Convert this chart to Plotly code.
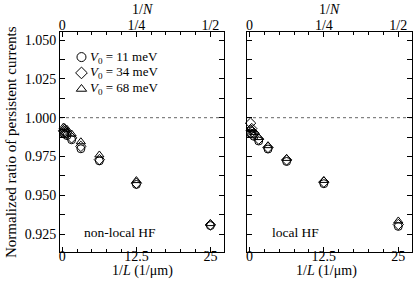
import plotly.graph_objects as go

# ---- data ----
N_vals = [2, 4, 8, 16, 32, 64, 128, 256]
inv_L = [50.0 / n for n in N_vals]          # 1/L (1/um)

nonlocal_v11 = [0.9305, 0.9570, 0.9722, 0.9800, 0.9858, 0.9885, 0.9895, 0.9900]
nonlocal_v34 = [0.9310, 0.9578, 0.9730, 0.9815, 0.9870, 0.9900, 0.9910, 0.9915]
nonlocal_v68 = [0.9318, 0.9595, 0.9760, 0.9845, 0.9895, 0.9925, 0.9935, 0.9940]

local_v11 = [0.9300, 0.9575, 0.9718, 0.9798, 0.9850, 0.9880, 0.9895, 0.9900]
local_v34 = [0.9312, 0.9585, 0.9728, 0.9808, 0.9862, 0.9900, 0.9930, 0.9965]
local_v68 = [0.9335, 0.9596, 0.9738, 0.9820, 0.9872, 0.9905, 0.9925, 0.9930]

series_names = ["<i>V</i><sub>0</sub> = 11 meV", "<i>V</i><sub>0</sub> = 34 meV", "<i>V</i><sub>0</sub> = 68 meV"]
symbols = ["circle-open", "diamond-open", "triangle-up-open"]

bottom_tickvals = [0, 12.5, 25]
bottom_ticktext = ["0", "12.5", "25"]
top_ticktext = ["0", "1/4", "1/2"]
y_tickvals = [0.925, 0.950, 0.975, 1.000, 1.025, 1.050]
y_ticktext = ["0.925", "0.950", "0.975", "1.000", "1.025", "1.050"]

FONT = "Liberation Serif"
W, H = 415, 288
xr = [-0.4, 27.3]
yr = [0.9135, 1.0552]

def px(x):
    return x / W
def py(y):
    return 1 - y / H

left_dom = [px(60), px(224)]
right_dom = [px(247), px(412)]
y_dom = [py(252), py(32)]

fig = go.Figure()

for xa, ya, data in [("x", "y", [nonlocal_v11, nonlocal_v34, nonlocal_v68]),
                     ("x2", "y2", [local_v11, local_v34, local_v68])]:
    for vals, sym in zip(data, symbols):
        fig.add_trace(go.Scatter(
            x=inv_L, y=vals, mode="markers", xaxis=xa, yaxis=ya,
            marker=dict(symbol=sym, size=8, color="black", line=dict(width=1, color="black")),
            showlegend=False, cliponaxis=False))

# invisible traces for the top axes
fig.add_trace(go.Scatter(x=[0], y=[1], xaxis="x3", yaxis="y", mode="markers",
                         marker=dict(opacity=0), showlegend=False, hoverinfo="skip"))
fig.add_trace(go.Scatter(x=[0], y=[1], xaxis="x4", yaxis="y2", mode="markers",
                         marker=dict(opacity=0), showlegend=False, hoverinfo="skip"))

# legend (manual) on overlay axis
leg_rows = [0.886, 0.814, 0.741]
fig.add_trace(go.Scatter(x=[0.131] * 3, y=leg_rows, xaxis="x5", yaxis="y5", mode="markers",
                         marker=dict(symbol=symbols, size=9, color="black", line=dict(width=1, color="black")),
                         showlegend=False, hoverinfo="skip"))

axis_common = dict(showline=True, linecolor="black", linewidth=1, ticks="inside",
                   ticklen=5, tickwidth=1, tickcolor="black", showgrid=False, zeroline=False,
                   automargin=False,
                   tickfont=dict(family=FONT, size=14, color="black"))

xminor = dict(dtick=2.5, ticklen=3, ticks="inside", tickcolor="black", tickwidth=1, showgrid=False)
yminor = dict(dtick=0.0125, ticklen=3, ticks="inside", tickcolor="black", tickwidth=1, showgrid=False)

fig.update_layout(
    template="none",
    width=W, height=H, margin=dict(l=0, r=0, t=0, b=0, pad=0),
    paper_bgcolor="white", plot_bgcolor="rgba(0,0,0,0)", showlegend=False,
    xaxis=dict(domain=left_dom, range=xr, anchor="y", tickmode="array", ticklabelstandoff=-9,
               tickvals=bottom_tickvals, ticktext=bottom_ticktext, minor=xminor, **axis_common),
    yaxis=dict(domain=y_dom, range=yr, anchor="x", tickmode="array", tickvals=y_tickvals,
               ticktext=y_ticktext, mirror="allticks", minor=yminor, **axis_common),
    xaxis2=dict(domain=right_dom, range=xr, anchor="y2", tickmode="array", ticklabelstandoff=-9,
                tickvals=bottom_tickvals, ticktext=bottom_ticktext, minor=xminor, **axis_common),
    yaxis2=dict(domain=y_dom, range=yr, anchor="x2", tickmode="array", tickvals=y_tickvals,
                showticklabels=False, mirror="allticks", minor=yminor, **axis_common),
    xaxis3=dict(overlaying="x", side="top", range=xr, anchor="y", tickmode="array", ticklabelstandoff=-5,
                tickvals=bottom_tickvals, ticktext=top_ticktext, minor=xminor, **axis_common),
    xaxis4=dict(overlaying="x2", side="top", range=xr, anchor="y2", tickmode="array", ticklabelstandoff=-5,
                tickvals=bottom_tickvals, ticktext=top_ticktext, minor=xminor, **axis_common),
    xaxis5=dict(domain=left_dom, range=[0, 1], anchor="y5", visible=False, automargin=False),
    yaxis5=dict(domain=y_dom, range=[0, 1], anchor="x5", visible=False, automargin=False),
)

# dotted reference line at 1.000
for xr_, yr_ in [("x domain", "y"), ("x2 domain", "y2")]:
    fig.add_shape(type="line", xref=xr_, yref=yr_, x0=0, x1=1, y0=1.0, y1=1.0,
                  line=dict(color="#666666", width=1, dash="dot"), layer="below")

ann_font = dict(family=FONT, size=14, color="black")
annotations = []
for name, yrow in zip(series_names, leg_rows):
    annotations.append(dict(xref="x5", yref="y5", x=0.171, y=yrow, text=name, showarrow=False,
                            xanchor="left", yanchor="middle", font=dict(family=FONT, size=13, color="black")))
annotations += [
    dict(xref="paper", yref="paper", x=px(142), y=py(9), text="1/<i>N</i>", showarrow=False,
         xanchor="center", yanchor="middle", font=ann_font),
    dict(xref="paper", yref="paper", x=px(329), y=py(9), text="1/<i>N</i>", showarrow=False,
         xanchor="center", yanchor="middle", font=ann_font),
    dict(xref="paper", yref="paper", x=px(142), y=py(271), text="1/<i>L</i> (1/μm)", showarrow=False,
         xanchor="center", yanchor="middle", font=ann_font),
    dict(xref="paper", yref="paper", x=px(326), y=py(271), text="1/<i>L</i> (1/μm)", showarrow=False,
         xanchor="center", yanchor="middle", font=ann_font),
    dict(xref="paper", yref="paper", x=px(11), y=py(142), text="Normalized ratio of persistent currents",
         showarrow=False, textangle=-90, xanchor="center", yanchor="middle",
         font=dict(family=FONT, size=15, color="black")),
    dict(xref="paper", yref="paper", x=px(82), y=py(232), text="non-local HF", showarrow=False,
         xanchor="left", yanchor="middle", font=dict(family=FONT, size=13.5, color="black")),
    dict(xref="paper", yref="paper", x=px(270), y=py(232), text="local HF", showarrow=False,
         xanchor="left", yanchor="middle", font=dict(family=FONT, size=13.5, color="black")),
]
fig.update_layout(annotations=annotations)

fig.write_html("out.html", config={"displayModeBar": False},
               post_script="document.body.style.margin='0px';")
